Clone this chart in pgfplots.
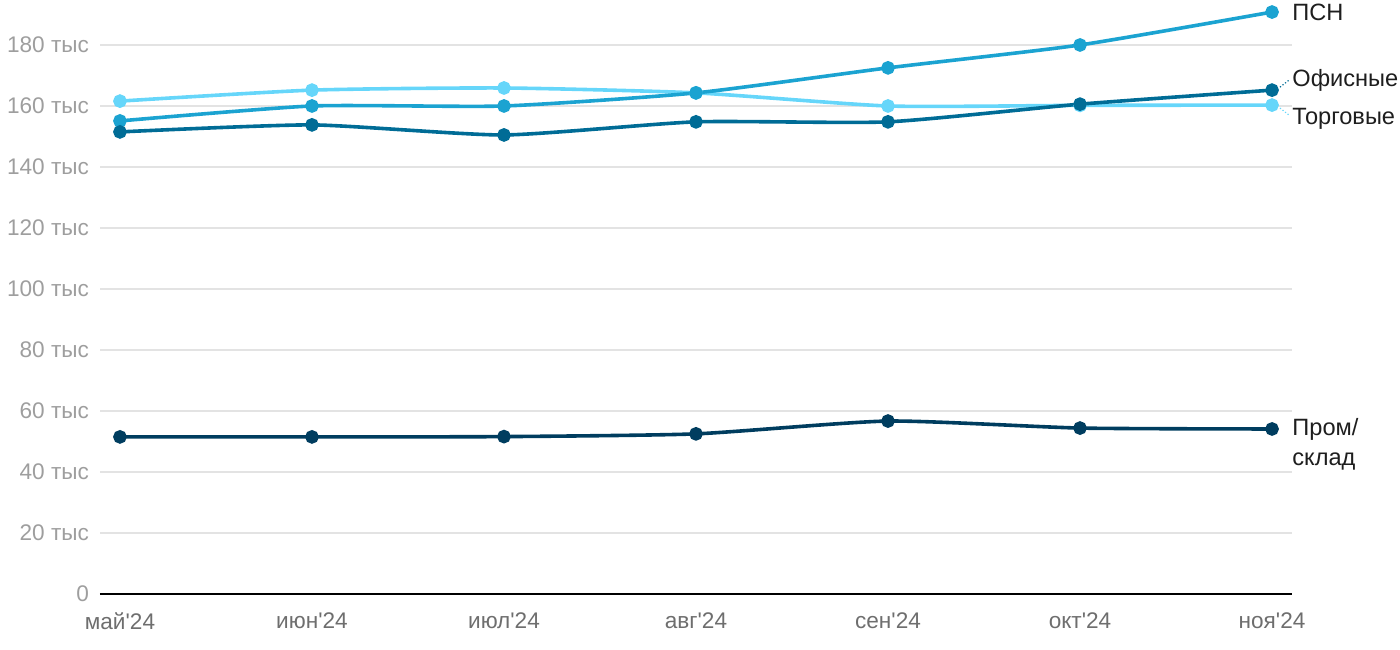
\documentclass[border=0pt]{standalone}
\usepackage{fontspec}
\setmainfont{Liberation Sans}
\usepackage{pgfplots}
\pgfplotsset{compat=1.18}
\usetikzlibrary{calc}
\definecolor{psn}{HTML}{1BA3D1}
\definecolor{ofis}{HTML}{006C96}
\definecolor{torg}{HTML}{66D6FA}
\definecolor{prom}{HTML}{003D5F}
\definecolor{gridc}{HTML}{E3E3E3}
\definecolor{ytc}{HTML}{9E9E9E}
\definecolor{xtc}{HTML}{6E6E6E}
\definecolor{lbl}{HTML}{1E1E1E}
\newcommand{\lf}{\fontsize{11.8}{15}\selectfont}
\newcommand{\q}{\textquotesingle}
\begin{document}
\begin{tikzpicture}
\begin{axis}[
  name=ax,
  scale only axis,
  width=596pt, height=289.75pt,
  xmin=-0.104, xmax=6.104,
  ymin=0, ymax=190,
  axis x line=bottom, axis y line=left,
  x axis line style={black, line width=1pt, -},
  y axis line style={draw=none},
  xtick={0,1,2,3,4,5,6},
  xticklabels={май\q24,июн\q24,июл\q24,авг\q24,сен\q24,окт\q24,ноя\q24},
  ytick={0,20,40,60,80,100,120,140,160,180},
  yticklabels={0,20 тыс,40 тыс,60 тыс,80 тыс,100 тыс,120 тыс,140 тыс,160 тыс,180 тыс},
  ymajorgrids, grid style={gridc, line width=0.6pt},
  major tick length=0pt,
  xticklabel style={font=\fontsize{11.3}{13}\selectfont, text=xtc, yshift=-6pt},
  yticklabel style={font=\fontsize{11.3}{13}\selectfont, text=ytc, xshift=-2pt},
  clip=false,
  every axis plot/.append style={line width=1.8pt, mark=*, mark size=2.5pt, smooth, tension=0.35},
]
\addplot[color=torg, mark options={fill=torg, draw=torg}] coordinates {(0,161.6) (1,165.2) (2,165.9) (3,164.3) (4,160) (5,160.2) (6,160.3)};
\addplot[color=psn, mark options={fill=psn, draw=psn}] coordinates {(0,155.1) (1,160) (2,160) (3,164.3) (4,172.5) (5,180) (6,190.8)};
\addplot[color=ofis, mark options={fill=ofis, draw=ofis}] coordinates {(0,151.5) (1,153.8) (2,150.5) (3,154.8) (4,154.8) (5,160.6) (6,165.2)};
\addplot[color=prom, mark options={fill=prom, draw=prom}] coordinates {(0,51.5) (1,51.5) (2,51.6) (3,52.5) (4,56.7) (5,54.4) (6,54.1)};
\node[anchor=west, font=\lf, text=lbl, inner sep=0pt, xshift=10pt] at (axis cs:6,190.8) {ПСН};
\node[anchor=west, font=\lf, text=lbl, inner sep=0pt, xshift=10pt, yshift=5pt] at (axis cs:6,165.2) {Офисные};
\node[anchor=west, font=\lf, text=lbl, inner sep=0pt, xshift=10pt, yshift=-6.8pt] at (axis cs:6,160.3) {Торговые};
\node[anchor=north west, font=\lf, text=lbl, inner sep=0pt, align=left, xshift=10pt, yshift=5.5pt] at (axis cs:6,54.1) {Пром/\\склад};
\draw[ofis, line width=0.6pt, densely dotted] ($(axis cs:6,165.2)+(4pt,1.5pt)$) -- ($(axis cs:6,165.2)+(8.5pt,5pt)$);
\draw[torg, line width=0.6pt, densely dotted] ($(axis cs:6,160.3)+(4pt,-1.5pt)$) -- ($(axis cs:6,160.3)+(8.5pt,-5pt)$);
\end{axis}
\path ($(ax.south west)+(-50pt,-28pt)$) rectangle ($(ax.north east)+(54pt,7.25pt)$);
\end{tikzpicture}
\end{document}
